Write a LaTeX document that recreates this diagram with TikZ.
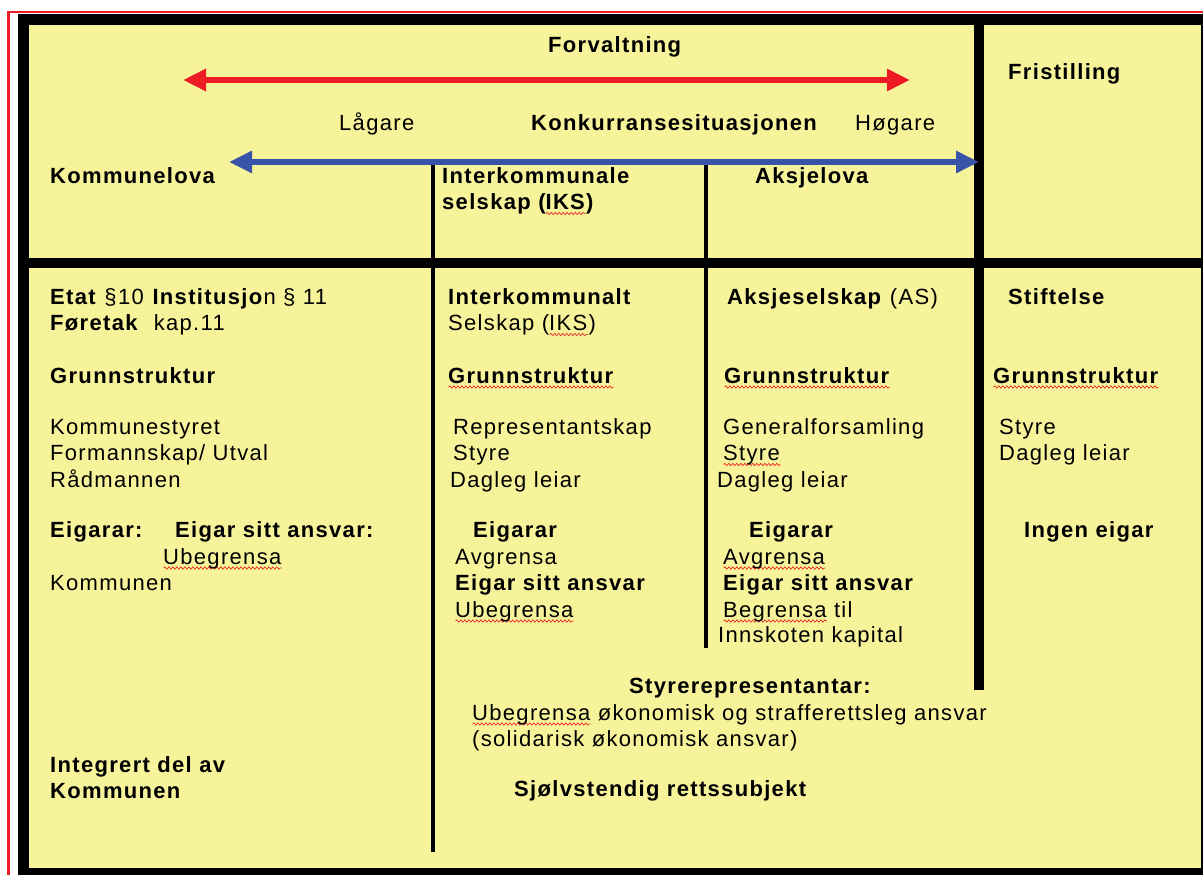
\documentclass[tikz,border=0pt]{standalone}
\usepackage{fontspec}
\setmainfont{Liberation Sans}[LetterSpace=6]
\usetikzlibrary{arrows.meta,decorations.pathmorphing}

\definecolor{chartYellow}{RGB}{247,243,155}
\definecolor{arrowRed}{RGB}{237,28,36}
\definecolor{arrowBlue}{RGB}{56,84,168}
\definecolor{spellRed}{RGB}{235,40,40}

% red wavy mark under words
\newlength{\spellWidth}
\newcommand{\redwave}[1]{\settowidth{\spellWidth}{#1}\rlap{\tikz[x=1pt,y=1pt,baseline=0pt]\draw[spellRed, line width=0.7pt, decorate, decoration={snake, segment length=4pt, amplitude=1.1pt}] (0pt,-4pt) -- (\spellWidth,-4pt);}#1}

\newcommand{\frameLineWidth}{11pt}
\newcommand{\thickLineWidth}{10pt}
\newcommand{\thinLineWidth}{4pt}
\newcommand{\arrowLineWidth}{6pt}
\newcommand{\lineStep}{26.5}
\newcommand{\rowTitleY}{304}
\newcommand{\rowGrunnY}{383}
\newcommand{\rowOrganY}{434}
\newcommand{\rowEigarY}{537}
\newcommand{\rowAnsvarY}{564}
\newcommand{\colOneX}{50}
\newcommand{\colTwoX}{448}
\newcommand{\colThreeX}{723}
\newcommand{\colFourX}{999}

\begin{document}
\begin{tikzpicture}[x=1pt,y=-1pt,
    txt/.style={anchor=base west, inner sep=0pt, align=left, font=\fontsize{22}{26.5}\selectfont},
    hd/.style={txt, font=\fontsize{22}{26.5}\selectfont\bfseries},
    arr/.style={{Triangle[length=23pt,width=21pt]}-{Triangle[length=23pt,width=21pt]}, line width=\arrowLineWidth}]
    \useasboundingbox (0,0) rectangle (1203,875);
    \clip (0,0) rectangle (1203,875);

    % Background and frame
    \fill[white] (0,0) rectangle (1203,875);
    \draw[arrowRed, line width=2.5pt] (8.5,12) rectangle (1230,900);
    \fill[chartYellow] (24,20) rectangle (1206,873);
    \draw[line width=\frameLineWidth] (23.5,20) rectangle (1206.5,873);

    % Column lines
    \draw[line width=\thinLineWidth] (433,160) -- (433,852);
    \draw[line width=\thinLineWidth] (706,160) -- (706,648);
    \draw[line width=\thickLineWidth] (23.5,263) -- (1206.5,263);
    \draw[line width=\thickLineWidth] (979,20) -- (979,690);

    % Arrows
    \coordinate (redL) at (183,80);
    \coordinate (redR) at (910,80);
    \coordinate (blueL) at (229,162);
    \coordinate (blueR) at (979,162);
    \draw[arr, arrowRed] (redL) -- (redR);
    \draw[arr, arrowBlue] (blueL) -- (blueR);

    % Top part (multi-line nodes sit on their last line)
    \node[hd] (forv) at (548,53) {Forvaltning};
    \node[txt] (lag) at (339,130) {Lågare};
    \node[hd] (konk) at (531,130) {Konkurransesituasjonen};
    \node[txt] (hog) at (855,130) {Høgare};
    \node[hd] (kl) at (\colOneX,183) {Kommunelova};
    \node[hd] (iks) at (442,183+\lineStep) {Interkommunale\\ selskap (\redwave{IKS})};
    \node[hd] (aksl) at (755,183) {Aksjelova};
    \node[hd] (frist) at (1008,80) {Fristilling};

    % Kommunelova column
    \node[txt] (etat) at (\colOneX,\rowTitleY+\lineStep) {\textbf{Etat} §10 \textbf{Institusjo}n § 11\\ \textbf{Føretak}\ \ kap.11};
    \node[hd] (grunn1) at (\colOneX,\rowGrunnY) {Grunnstruktur};
    \node[txt] (organ1) at (\colOneX,\rowOrganY+2*\lineStep) {Kommunestyret\\ Formannskap/ Utval\\ Rådmannen};
    \node[hd] (eig1) at (\colOneX,\rowEigarY) {Eigarar:};
    \node[hd] (ans1) at (175,\rowEigarY) {Eigar sitt ansvar:};
    \node[txt] (ubeg1) at (163,\rowAnsvarY) {\redwave{Ubegrensa}};
    \node[txt] (komm1) at (\colOneX,590) {Kommunen};
    \node[hd] (integ) at (\colOneX,772+\lineStep) {Integrert del av\\ Kommunen};

    % IKS column
    \node[txt] (ikst) at (\colTwoX,\rowTitleY+\lineStep) {\textbf{Interkommunalt}\\ Selskap (\redwave{IKS})};
    \node[hd] (grunn2) at (\colTwoX,\rowGrunnY) {\redwave{Grunnstruktur}};
    \node[txt] (organ2) at (453,\rowOrganY+\lineStep) {Representantskap\\ Styre};
    \node[txt] (dagl2) at (450,487) {Dagleg leiar};
    \node[hd] (eig2) at (473,\rowEigarY) {Eigarar};
    \node[txt] (ans2) at (455,\rowAnsvarY+2*\lineStep) {Avgrensa\\ \textbf{Eigar sitt ansvar}\\ \redwave{Ubegrensa}};

    % AS column
    \node[txt] (as) at (727,\rowTitleY) {\textbf{Aksjeselskap} (AS)};
    \node[hd] (grunn3) at (724,\rowGrunnY) {\redwave{Grunnstruktur}};
    \node[txt] (organ3) at (\colThreeX,\rowOrganY+\lineStep) {Generalforsamling\\ \redwave{Styre}};
    \node[txt] (dagl3) at (717,487) {Dagleg leiar};
    \node[hd] (eig3) at (749,\rowEigarY) {Eigarar};
    \node[txt] (ans3) at (\colThreeX,\rowAnsvarY+2*\lineStep) {\redwave{Avgrensa}\\ \textbf{Eigar sitt ansvar}\\ \redwave{Begrensa} til};
    \node[txt] (innsk) at (718,642) {Innskoten kapital};

    % Stiftelse column
    \node[hd] (stift) at (1008,\rowTitleY) {Stiftelse};
    \node[hd] (grunn4) at (993,\rowGrunnY) {\redwave{Grunnstruktur}};
    \node[txt] (organ4) at (\colFourX,\rowOrganY+\lineStep) {Styre\\ Dagleg leiar};
    \node[hd] (ingen) at (1024,\rowEigarY) {Ingen eigar};

    % Shared bottom text
    \node[hd] (styrrep) at (629,693) {Styrerepresentantar:};
    \node[txt] (ubeg) at (472,720+\lineStep) {\redwave{Ubegrensa} økonomisk og strafferettsleg ansvar\\ (solidarisk økonomisk ansvar)};
    \node[hd] (sjolv) at (514,796) {Sjølvstendig rettssubjekt};
\end{tikzpicture}
\end{document}
